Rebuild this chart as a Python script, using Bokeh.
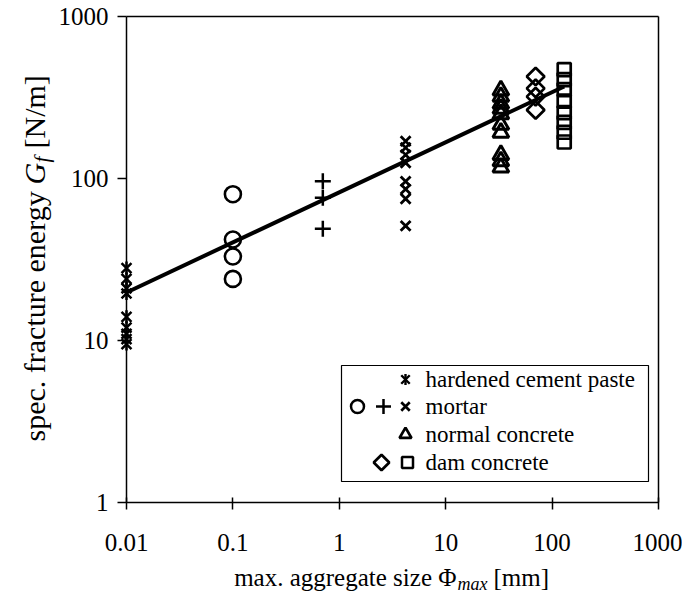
import math
from bokeh.plotting import figure
from bokeh.models import (FixedTicker, CustomJSTickFormatter, Label, Range1d, LinearScale)
from bokeh.embed import file_html
from bokeh.resources import INLINE

# ---------------- data ----------------
paste_x = [0.01] * 9
paste_y = [28, 24, 21, 19.5, 14, 12, 11, 10.2, 9.5]

mortar_circle_x = [0.1] * 4
mortar_circle_y = [80, 42, 33, 24]
mortar_plus_x = [0.7] * 3
mortar_plus_y = [96, 76, 49]
mortar_cross_x = [4.2] * 8
mortar_cross_y = [170, 155, 140, 125, 96, 86, 75, 51]

normal_x = [33] * 10
normal_y = [350, 320, 290, 270, 250, 215, 192, 140, 128, 117]

dam_diamond_x = [70] * 4
dam_diamond_y = [426, 360, 320, 265]
dam_square_x = [130] * 8
dam_square_y = [470, 408, 354, 300, 255, 222, 193, 168]

fit_x = [0.01, 130]
fit_y = [19.8, 370]

x_ticks = [0.01, 0.1, 1, 10, 100, 1000]
y_ticks = [1, 10, 100, 1000]

legend_labels = ["hardened cement paste", "mortar", "normal concrete", "dam concrete"]

FONT = "Liberation Serif"
TICK_FS = "25px"
LEG_FS = "23px"
XT_FS, XT_SUB = "25px", "18px"
YT_FS, YT_SUB = "30px", "21px"

# ---------------- figure: the frame covers the whole canvas ----------------
W, H = 682, 596
AX_L, AX_R = 126, 658      # canvas px of x = 0.01 and x = 1000
AX_T, AX_B = 16, 502       # canvas px of y = 1000 and y = 1
dec_x = (AX_R - AX_L) / (math.log10(x_ticks[-1]) - math.log10(x_ticks[0]))
dec_y = (AX_B - AX_T) / (math.log10(y_ticks[-1]) - math.log10(y_ticks[0]))
x_lo = 10 ** (math.log10(x_ticks[0]) - AX_L / dec_x)
x_hi = 10 ** (math.log10(x_ticks[-1]) + (W - AX_R) / dec_x)
y_lo = 10 ** (math.log10(y_ticks[0]) - (H - AX_B) / dec_y)
y_hi = 10 ** (math.log10(y_ticks[-1]) + AX_T / dec_y)

p = figure(x_axis_type="log", y_axis_type="log",
           x_range=Range1d(x_lo, x_hi), y_range=Range1d(y_lo, y_hi),
           frame_width=W, frame_height=H,
           min_border_left=0, min_border_right=0, min_border_top=0, min_border_bottom=0,
           output_backend="svg", toolbar_location=None)
p.outline_line_color = None
p.xgrid.visible = False
p.ygrid.visible = False
p.background_fill_color = "white"
p.border_fill_color = "white"

# canvas-pixel helper coordinates (origin bottom-left) for legend and titles
p.extra_x_ranges = {"px": Range1d(0, W)}
p.extra_y_ranges = {"px": Range1d(0, H)}
p.extra_x_scales = {"px": LinearScale()}
p.extra_y_scales = {"px": LinearScale()}
PX = lambda x: x - 1          # page x -> helper x
PY = lambda y: H + 1 - y      # page y -> helper y

fmt = CustomJSTickFormatter(code="return (tick < 1) ? tick.toPrecision(1) : tick.toFixed(0);")

xa = p.xaxis[0]
xa.ticker = FixedTicker(ticks=x_ticks, minor_ticks=[])
xa.formatter = fmt
xa.bounds = (x_ticks[0], x_ticks[-1])
xa.fixed_location = y_ticks[0]
ya = p.yaxis[0]
ya.ticker = FixedTicker(ticks=y_ticks, minor_ticks=[])
ya.formatter = fmt
ya.bounds = (y_ticks[0], y_ticks[-1])
ya.fixed_location = x_ticks[0]

for ax in (xa, ya):
    ax.axis_line_color = "black"
    ax.axis_line_width = 1.5
    ax.major_tick_line_color = "black"
    ax.major_tick_line_width = 1.5
    ax.minor_tick_line_color = None
    ax.major_label_text_font = FONT
    ax.major_label_text_font_size = TICK_FS
    ax.major_label_text_color = "black"
xa.major_tick_in = 5
xa.major_tick_out = 7
xa.major_label_standoff = 24
ya.major_tick_in = 0
ya.major_tick_out = 9
ya.major_label_standoff = 9

# top and right frame lines at the axis extremes
p.segment(x0=[x_ticks[0], x_ticks[-1]], y0=[y_ticks[-1], y_ticks[0]],
          x1=[x_ticks[-1], x_ticks[-1]], y1=[y_ticks[-1], y_ticks[-1]],
          line_color="black", line_width=1.5)

# ---------------- data marks ----------------
p.line(fit_x, fit_y, line_color="black", line_width=4)

LW = 2.5
p.scatter(paste_x, paste_y, marker="x", size=14, line_color="black", line_width=LW)
p.scatter(paste_x, paste_y, marker="dash", angle=math.pi / 2, size=13,
          line_color="black", line_width=LW)
p.scatter(mortar_circle_x, mortar_circle_y, marker="circle", size=16,
          fill_color=None, line_color="black", line_width=2.6)
p.scatter(mortar_plus_x, mortar_plus_y, marker="cross", size=16,
          line_color="black", line_width=LW)
p.scatter(mortar_cross_x, mortar_cross_y, marker="x", size=14,
          line_color="black", line_width=2.8)
p.scatter(normal_x, normal_y, marker="triangle", size=16,
          fill_color=None, line_color="black", line_width=3)
p.scatter(dam_diamond_x, dam_diamond_y, marker="square", angle=math.pi / 4, size=12.5,
          fill_color=None, line_color="black", line_width=2.7)
p.scatter(dam_square_x, dam_square_y, marker="square", size=13,
          fill_color=None, line_color="black", line_width=2.7)

# ---------------- legend ----------------
rows = [PY(380), PY(407), PY(435), PY(463)]
p.quad(left=[PX(342)], right=[PX(649)], bottom=[PY(482)], top=[PY(366)],
       x_range_name="px", y_range_name="px",
       fill_color="white", line_color="black", line_width=1.2)
kw = dict(x_range_name="px", y_range_name="px", line_color="black")
p.scatter([PX(406)], [rows[0]], marker="x", size=12, line_width=2.4, **kw)
p.scatter([PX(406)], [rows[0]], marker="dash", angle=math.pi / 2, size=11, line_width=2.4, **kw)
p.scatter([PX(358)], [rows[1]], marker="circle", size=13, fill_color=None, line_width=2.5, **kw)
p.scatter([PX(384)], [rows[1]], marker="cross", size=15, line_width=2.5, **kw)
p.scatter([PX(406)], [rows[1]], marker="x", size=12, line_width=2.7, **kw)
p.scatter([PX(406)], [rows[2]], marker="triangle", size=12, fill_color=None, line_width=2.7, **kw)
p.scatter([PX(382)], [rows[3]], marker="square", angle=math.pi / 4, size=11,
          fill_color=None, line_width=2.7, **kw)
p.scatter([PX(408)], [rows[3]], marker="square", size=11, fill_color=None, line_width=2.5, **kw)
for lab_t, ry in zip(legend_labels, rows):
    p.add_layout(Label(x=PX(426), y=ry, text=lab_t, x_range_name="px", y_range_name="px",
                       text_font=FONT, text_font_size=LEG_FS, text_color="black",
                       text_baseline="middle", text_align="left"))

# ---------------- axis titles ----------------
def lab(x, y, t, size, style="normal", angle=0.0, align="left", base="alphabetic"):
    p.add_layout(Label(x=x, y=y, text=t, x_range_name="px", y_range_name="px",
                       text_font=FONT, text_font_size=size, text_font_style=style,
                       text_color="black", angle=angle, text_align=align,
                       text_baseline=base))

# x title: "max. aggregate size Φ_max [mm]"
xt_base = PY(578)
xr = PX(457)
lab(xr, xt_base, "max. aggregate size Φ", XT_FS, align="right")
lab(xr + 1, xt_base - 6, "max", XT_SUB, style="italic")
lab(xr + 37, xt_base, "[mm]", XT_FS)

# y title (rotated): "spec. fracture energy G_f [N/m]"
yt_x = PX(35)
y0 = PY(442)
lab(yt_x, y0, "spec. fracture energy", YT_FS, angle=math.pi / 2, base="middle")
lab(yt_x, y0 + 257, "G", YT_FS, angle=math.pi / 2, style="italic", base="middle")
lab(yt_x + 7, y0 + 279, "f", YT_SUB, angle=math.pi / 2, style="italic", base="middle")
lab(yt_x, y0 + 293, "[N/m]", YT_FS, angle=math.pi / 2, base="middle")

open("out.html", "w").write(file_html(p, INLINE))
